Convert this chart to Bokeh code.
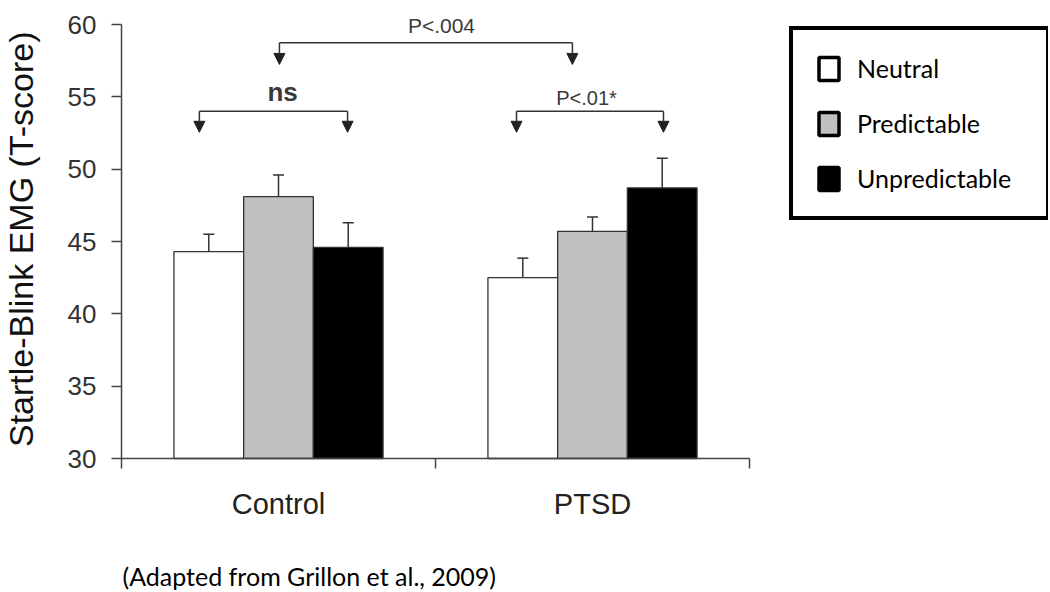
import numpy as np
from bokeh.plotting import figure
from bokeh.models import (ColumnDataSource, FixedTicker, Whisker, TeeHead, Arrow,
                          NormalHead, Label, Legend, LegendItem, Range1d)
from bokeh.embed import file_html
from bokeh.resources import INLINE

# ---------------- data ----------------
groups = ["Control", "PTSD"]
conditions = ["Neutral", "Predictable", "Unpredictable"]
neutral_mean = [44.3, 42.5]
predictable_mean = [48.1, 45.7]
unpredictable_mean = [44.6, 48.7]
neutral_err = [1.2, 1.35]
predictable_err = [1.5, 1.0]
unpredictable_err = [1.7, 2.05]
y_ticks = [30, 35, 40, 45, 50, 55, 60]
y_title = "Startle-Blink  EMG (T-score)"
caption = "(Adapted from Grillon et al., 2009)"

# annotation brackets: (x_left, x_right, y_line, y_tip)
brackets = [
    (0.503, 1.436, 58.73, 57.24),
    (0.248, 0.720, 54.01, 52.55),
    (1.258, 1.726, 54.01, 52.55),
]

# ---------------- layout constants ----------------
W, H = 1048, 590
PX_X = 314.0               # pixels per group
PX_Y = 434 / 30.0          # pixels per y unit
AX_X = 121                 # canvas x of the y axis
AX_Y = 458                 # canvas y of the x axis (value 30)


def cx(px):   # canvas x -> data x
    return (px - AX_X) / PX_X


def cy(py):   # canvas y -> data y
    return 30 + (AX_Y - py) / PX_Y


p = figure(width=W, height=H, x_range=Range1d(cx(0), cx(W)),
           y_range=Range1d(cy(H), cy(0)),
           output_backend="svg", toolbar_location=None, min_border=0)
p.outline_line_color = None
p.xgrid.visible = False
p.ygrid.visible = False
p.background_fill_color = "white"

fills = ["white", "#c0c0c0", "black"]
means = [neutral_mean, predictable_mean, unpredictable_mean]
errs = [neutral_err, predictable_err, unpredictable_err]
offsets = [-0.222, 0.0, 0.222]
bar_w = 0.222
legend_renderers = []
for cond, m, e, off, fc in zip(conditions, means, errs, offsets, fills):
    xs = [i + 0.5 + off for i in range(len(groups))]
    src = ColumnDataSource(dict(x=xs, top=m, upper=list(np.array(m) + np.array(e))))
    p.vbar(x="x", top="top", bottom=30, width=bar_w, source=src,
           fill_color=fc, line_color="#333333", line_width=1.3)
    w = Whisker(base="x", lower="top", upper="upper", source=src,
                line_color="#333333", line_width=1.5,
                upper_head=TeeHead(size=11, line_color="#333333", line_width=1.5),
                lower_head=None)
    p.add_layout(w)
    # off-screen proxy glyph used only for the legend swatch
    r = p.rect(x=[-50], y=[-50], width=1, height=1, fill_color=fc, line_color="black",
               line_width=3.5)
    legend_renderers.append(r)

# brackets
for xl, xr, yl, yt in brackets:
    p.segment(x0=[xl], y0=[yl], x1=[xr], y1=[yl], line_color="#333333", line_width=1.5)
    for xx in (xl, xr):
        p.add_layout(Arrow(x_start=xx, y_start=yl, x_end=xx, y_end=yt,
                           line_color="#333333", line_width=1.5,
                           end=NormalHead(size=11, fill_color="#222222",
                                          line_color="#222222", line_width=1)))

txt_color = "#3a3a3a"
p.add_layout(Label(x=1.019, y=59.93, text="P<.004", text_align="center",
                   text_baseline="middle", text_font="Liberation Sans",
                   text_font_size="21px", text_color=txt_color))
p.add_layout(Label(x=0.513, y=55.30, text="ns", text_align="center",
                   text_baseline="middle", text_font="Liberation Sans",
                   text_font_size="26px", text_font_style="bold", text_color=txt_color))
p.add_layout(Label(x=1.481, y=54.95, text="P<.01*", text_align="center",
                   text_baseline="middle", text_font="Liberation Sans",
                   text_font_size="20px", text_color=txt_color))

# y-axis title
p.add_layout(Label(x=cx(20), y=cy(234), text=y_title, angle=np.pi / 2,
                   text_align="center", text_baseline="middle",
                   text_font="Liberation Sans", text_font_size="34px",
                   text_color="#111111"))

# caption
p.add_layout(Label(x=cx(122), y=cy(575), text=caption, text_align="left",
                   text_baseline="alphabetic", text_font="Lato",
                   text_font_size="25px", text_color="black"))

# axes (fixed inside the canvas)
ya = p.yaxis[0]
ya.fixed_location = 0
ya.ticker = FixedTicker(ticks=y_ticks)
ya.bounds = (30, 60)
ya.major_tick_out = 10
ya.major_tick_in = 0
ya.minor_tick_out = 0
ya.minor_tick_in = 0
ya.axis_line_color = "#444444"
ya.axis_line_width = 1.5
ya.major_tick_line_color = "#444444"
ya.major_tick_line_width = 1.5
ya.major_label_text_font = "Liberation Sans"
ya.major_label_text_font_size = "26px"
ya.major_label_text_color = "#333333"
ya.major_label_standoff = 15

xa = p.xaxis[0]
xa.fixed_location = 30
xa.ticker = FixedTicker(ticks=[0.5, 1.5], minor_ticks=[0, 1, 2])
xa.bounds = (0, 2)
xa.major_tick_out = 0
xa.major_tick_in = 0
xa.minor_tick_out = 10
xa.minor_tick_in = 0
xa.axis_line_color = "#444444"
xa.axis_line_width = 1.5
xa.minor_tick_line_color = "#444444"
xa.minor_tick_line_width = 1.5
xa.major_label_overrides = {0.5: groups[0], 1.5: groups[1]}
xa.major_label_text_font = "Liberation Sans"
xa.major_label_text_font_size = "29px"
xa.major_label_text_color = "#222222"
xa.major_label_standoff = 19

# legend (box at about x 790..1045, y 27..218 of the page)
legend = Legend(items=[LegendItem(label=c, renderers=[r]) for c, r in zip(conditions, legend_renderers)],
                location=(789, H - 220), orientation="vertical",
                border_line_color="black", border_line_width=4, border_line_alpha=1,
                background_fill_color="white", background_fill_alpha=1,
                padding=23, spacing=25, margin=0,
                glyph_width=25, glyph_height=29, label_standoff=16,
                label_height=29, label_width=166,
                label_text_font="Lato", label_text_font_size="25px",
                label_text_color="black")
p.add_layout(legend)

open("out.html", "w").write(file_html(p, INLINE))
